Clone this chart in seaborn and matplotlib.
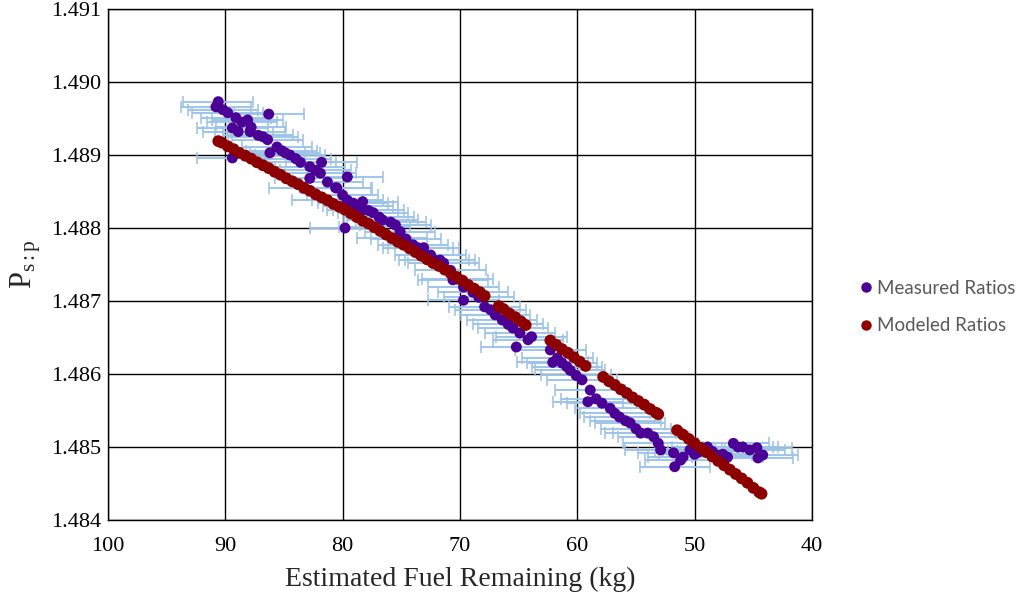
import matplotlib
matplotlib.use("Agg")
import matplotlib.pyplot as plt
from matplotlib.lines import Line2D
import pandas as pd
import seaborn as sns

# ---------------- data ----------------
meas_fuel = [90.8, 90.6, 90.2, 89.8, 89.4, 89.4, 89.1, 88.9, 88.6, 88.1,
             87.9, 87.8, 87.2, 86.8, 86.4, 86.3, 86.2, 85.6, 85.2, 84.9,
             84.5, 84.0, 83.6, 83.3, 82.8, 82.8, 82.3, 81.9, 81.8, 81.3,
             81.3, 80.6, 80.5, 80.0, 79.8, 79.6, 79.6, 79.1, 78.7, 78.3,
             78.3, 77.8, 77.4, 77.3, 76.9, 76.6, 75.9, 75.8, 75.5, 75.1,
             74.6, 74.0, 73.6, 73.1, 72.5, 72.2, 71.7, 71.4, 70.8, 70.6,
             70.2, 69.7, 69.7, 68.9, 68.4, 67.9, 67.4, 67.0, 66.4, 65.9,
             65.5, 65.2, 64.9, 64.2, 63.9, 62.3, 62.1, 61.7, 61.3, 60.9,
             60.6, 60.1, 59.6, 59.1, 58.9, 58.4, 57.9, 57.2, 56.8, 56.4,
             55.9, 55.5, 55.0, 54.6, 54.0, 53.5, 53.1, 52.9, 51.8, 51.7,
             51.2, 51.0, 50.4, 50.0, 49.7, 49.3, 48.9, 48.5, 48.1, 47.6,
             47.2, 46.7, 46.3, 45.9, 45.3, 44.7, 44.6, 44.2]
meas_ratio = [1.48966, 1.48973, 1.48962, 1.48958, 1.48937, 1.48896, 1.48951, 1.48932, 1.48945, 1.48948,
              1.48932, 1.48938, 1.48927, 1.48925, 1.48921, 1.48956, 1.48903, 1.48911, 1.48906, 1.48903,
              1.48900, 1.48895, 1.48890, 1.48855, 1.48884, 1.48868, 1.48879, 1.48875, 1.48890, 1.48863,
              1.48838, 1.48855, 1.48855, 1.48845, 1.48800, 1.48870, 1.48838, 1.48834, 1.48830, 1.48836,
              1.48825, 1.48824, 1.48821, 1.48801, 1.48815, 1.48811, 1.48808, 1.48786, 1.48804, 1.48795,
              1.48785, 1.48777, 1.48773, 1.48773, 1.48763, 1.48756, 1.48756, 1.48752, 1.48742, 1.48729,
              1.48730, 1.48719, 1.48701, 1.48712, 1.48705, 1.48692, 1.48688, 1.48681, 1.48674, 1.48668,
              1.48663, 1.48637, 1.48656, 1.48647, 1.48651, 1.48633, 1.48616, 1.48622, 1.48615, 1.48610,
              1.48605, 1.48598, 1.48592, 1.48562, 1.48578, 1.48566, 1.48560, 1.48553, 1.48546, 1.48541,
              1.48536, 1.48533, 1.48525, 1.48519, 1.48519, 1.48514, 1.48505, 1.48496, 1.48492, 1.48473,
              1.48482, 1.48486, 1.48496, 1.48490, 1.48493, 1.48495, 1.48500, 1.48494, 1.48489, 1.48490,
              1.48486, 1.48505, 1.48500, 1.48500, 1.48496, 1.48499, 1.48485, 1.48489]
meas_err_kg = 3.0

model_fuel = [90.6, 90.3, 89.8, 89.3, 88.8, 88.3, 87.8, 87.3, 86.8, 86.3,
              85.8, 85.3, 84.8, 84.3, 83.8, 83.3, 82.8, 82.3, 81.8, 81.3,
              80.8, 80.3, 79.8, 79.3, 78.8, 78.3, 77.8, 77.3, 76.8, 76.3,
              75.8, 75.3, 74.8, 74.3, 73.8, 73.3, 72.8, 72.3, 71.8, 71.3,
              70.8, 70.3, 69.8, 69.3, 68.8, 68.3, 67.9,
              66.7, 66.3, 65.8, 65.3, 64.8, 64.4,
              62.3, 61.8, 61.3, 60.8, 60.3, 59.8, 59.3,
              57.8, 57.3, 56.8, 56.3, 55.8, 55.3, 54.8, 54.3, 53.8, 53.3, 53.1,
              51.5, 51.0, 50.5, 50.0, 49.5, 49.0, 48.5, 48.0, 47.5, 47.0,
              46.5, 46.0, 45.5, 45.0, 44.5, 44.3]
model_ratio = [1.48919, 1.48917, 1.48912, 1.48908, 1.48903, 1.48899, 1.48895, 1.48890, 1.48886, 1.48882,
               1.48877, 1.48873, 1.48868, 1.48864, 1.48860, 1.48855, 1.48851, 1.48846, 1.48842, 1.48838,
               1.48833, 1.48829, 1.48825, 1.48820, 1.48815, 1.48810, 1.48806, 1.48801, 1.48796, 1.48791,
               1.48786, 1.48781, 1.48777, 1.48772, 1.48767, 1.48762, 1.48757, 1.48752, 1.48748, 1.48743,
               1.48738, 1.48733, 1.48728, 1.48722, 1.48717, 1.48712, 1.48707,
               1.48693, 1.48689, 1.48683, 1.48678, 1.48672, 1.48667,
               1.48646, 1.48640, 1.48634, 1.48629, 1.48623, 1.48617, 1.48611,
               1.48596, 1.48590, 1.48585, 1.48579, 1.48574, 1.48568, 1.48563, 1.48558, 1.48552, 1.48547, 1.48545,
               1.48523, 1.48517, 1.48511, 1.48505, 1.48499, 1.48493, 1.48487, 1.48481, 1.48475, 1.48469,
               1.48463, 1.48457, 1.48451, 1.48444, 1.48438, 1.48436]

x_ticks = [100, 90, 80, 70, 60, 50, 40]
y_ticks = [1.484, 1.485, 1.486, 1.487, 1.488, 1.489, 1.490, 1.491]
series_names = ["Measured Ratios", "Modeled Ratios"]
series_colors = ["#4B0096", "#8C0000"]
x_label = "Estimated Fuel Remaining (kg)"
y_label = r"$\mathrm{P_{s:p}}$"

# ---------------- style ----------------
sns.set_style("white")
plt.rcParams["font.family"] = ["Liberation Serif", "DejaVu Serif"]
plt.rcParams["mathtext.fontset"] = "custom"
plt.rcParams["mathtext.rm"] = "Liberation Serif"
plt.rcParams["mathtext.it"] = "Liberation Serif:italic"

W, H = 1027, 607
fig = plt.figure(figsize=(W / 100, H / 100), dpi=100)
L, R, T, B = 108, 812, 9, 520
ax = fig.add_axes([L / W, 1 - B / H, (R - L) / W, (B - T) / H])

df_meas = pd.DataFrame({"fuel": meas_fuel, "ratio": meas_ratio})
df_model = pd.DataFrame({"fuel": model_fuel, "ratio": model_ratio})

ax.errorbar(df_meas["fuel"], df_meas["ratio"], xerr=meas_err_kg, fmt="none",
            ecolor="#9DC3E6", elinewidth=1.5, capsize=4.5, capthick=1.2,
            alpha=0.95, zorder=2)
sns.scatterplot(data=df_meas, x="fuel", y="ratio", color=series_colors[0],
                s=62, edgecolor="none", linewidth=0, ax=ax, zorder=3, legend=False)
sns.scatterplot(data=df_model, x="fuel", y="ratio", color=series_colors[1],
                s=72, edgecolor="none", linewidth=0, ax=ax, zorder=4, legend=False)

ax.set_xlim(x_ticks[0], x_ticks[-1])
ax.set_ylim(y_ticks[0], y_ticks[-1])
ax.set_xticks(x_ticks)
ax.set_xticklabels([str(v) for v in x_ticks])
ax.set_yticks(y_ticks)
ax.set_yticklabels([f"{v:.3f}" for v in y_ticks])
ax.grid(True, color="black", linewidth=1.0, zorder=0)
ax.set_axisbelow(True)
for sp in ax.spines.values():
    sp.set_color("black")
    sp.set_linewidth(1.0)
ax.tick_params(axis="both", length=0, labelsize=16, colors="black")
ax.tick_params(axis="x", pad=12)
ax.tick_params(axis="y", pad=5)

ax.set_xlabel(x_label, fontsize=20, labelpad=8)
ax.set_ylabel(y_label, fontsize=22, labelpad=6)

handles = [Line2D([], [], linestyle="none", marker="o", markersize=6.5,
                  markerfacecolor=c, markeredgecolor=c) for c in series_colors]
fig.legend(handles, series_names, loc="center left",
           bbox_to_anchor=(838 / W, 1 - 307 / H), frameon=False,
           prop={"family": "Lato", "size": 13.5}, labelcolor="#595959",
           handletextpad=0.0, labelspacing=1.1, handlelength=1.2)

fig.savefig("out.png", dpi=100)
